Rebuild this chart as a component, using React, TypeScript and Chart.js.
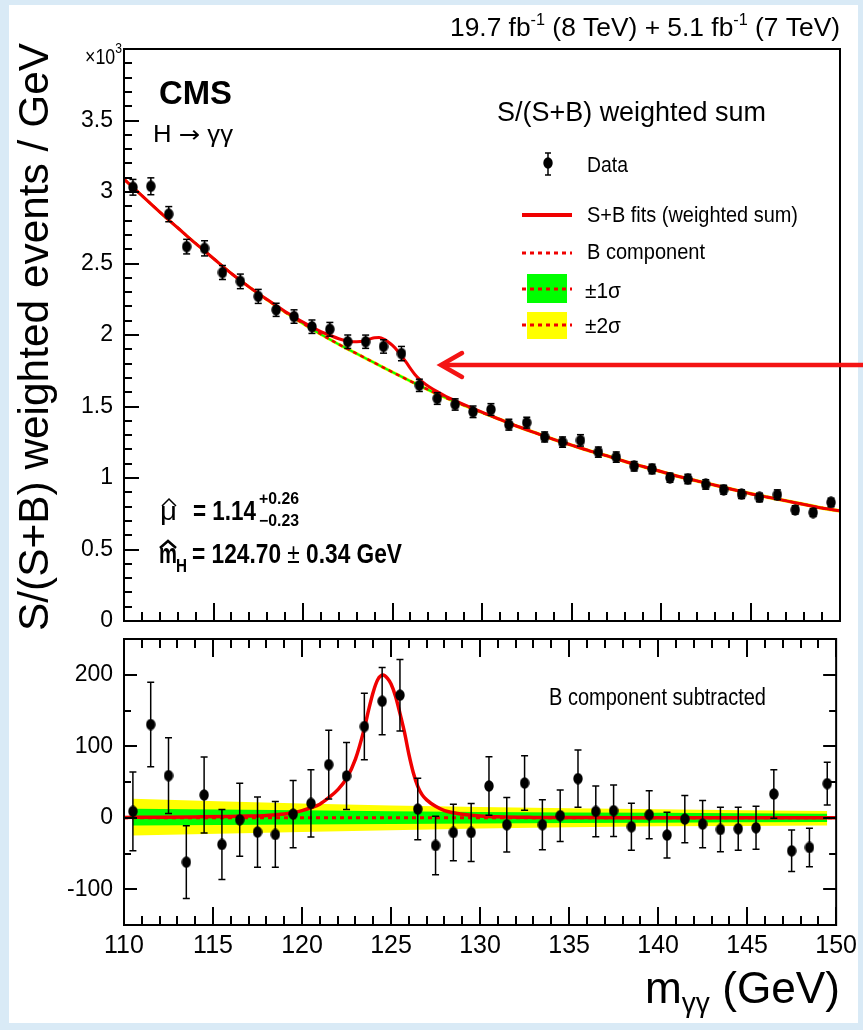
import { useEffect, useRef } from 'react';
import { Chart, registerables } from 'chart.js';

Chart.register(...registerables);

const W = 863;
const H = 1030;
const FONT = '"Liberation Sans", Arial, Helvetica, sans-serif';
const RED = '#f00000';
const GREEN = '#00ff00';
const YELLOW = '#ffff00';
const BLUE_BG = '#d9eaf6';

// ---------------- data ----------------
const BIN_CENTERS = [
  110.5, 111.5, 112.5, 113.5, 114.5, 115.5, 116.5, 117.5, 118.5, 119.5,
  120.5, 121.5, 122.5, 123.5, 124.5, 125.5, 126.5, 127.5, 128.5, 129.5,
  130.5, 131.5, 132.5, 133.5, 134.5, 135.5, 136.5, 137.5, 138.5, 139.5,
  140.5, 141.5, 142.5, 143.5, 144.5, 145.5, 146.5, 147.5, 148.5, 149.5,
];
// S/(S+B) weighted events / GeV  (x10^3)
const TOP_DATA = [
  3.033, 3.04, 2.845, 2.618, 2.606, 2.437, 2.375, 2.27, 2.176, 2.129,
  2.058, 2.04, 1.953, 1.953, 1.92, 1.87, 1.648, 1.556, 1.514, 1.463,
  1.479, 1.373, 1.387, 1.287, 1.251, 1.263, 1.181, 1.146, 1.082, 1.063,
  1.002, 0.993, 0.955, 0.918, 0.887, 0.864, 0.883, 0.777, 0.758, 0.829,
];
// B component subtracted
const SUB_DATA = [
  8.9, 130.4, 58.9, -62.1, 31.8, -37.4, -2.8, -20.1, -23.4, 5.1,
  20.1, 74.3, 58.4, 127.6, 163, 171.5, 12.1, -38.8, -20.6, -20.6,
  44.4, -9.8, 48.6, -9.8, 2.8, 54.7, 8.9, 9.8, -12.6, 4.2,
  -24.3, -1.9, -8.9, -16.4, -15.4, -14, 33.2, -46.3, -41.6, 47.7,
];
// uncertainties (events / GeV)
const DATA_ERR = [
  55, 59, 53, 51, 53, 49, 51, 49, 46, 47,
  47, 48, 47, 46.5, 47, 50, 43, 41, 39.5, 40.5,
  41, 38, 38, 35, 36, 40, 35.5, 36, 33, 33.7,
  32, 33, 33, 31, 30, 30, 34, 29, 27, 30,
];

// B component (x10^3)
const BKG_X = [
  110, 111, 112, 113, 114, 115, 116, 117, 118, 119, 120, 121, 122, 123, 124, 125,
  126, 127, 128, 129, 130, 131, 132, 133, 134, 135, 136, 137, 138, 139, 140, 141,
  142, 143, 144, 145, 146, 147, 148, 149, 150,
];
const BKG_Y = [
  3.09, 2.975, 2.86, 2.75, 2.64, 2.535, 2.43, 2.335, 2.245, 2.16, 2.08, 2.005, 1.935, 1.87, 1.805, 1.74,
  1.677, 1.617, 1.56, 1.508, 1.458, 1.41, 1.36, 1.315, 1.27, 1.23, 1.19, 1.155, 1.115, 1.08, 1.045, 1.01,
  0.98, 0.95, 0.92, 0.89, 0.865, 0.84, 0.815, 0.79, 0.77,
];
// S+B fit (x10^3)
const SB_X = [
  110, 111, 112, 113, 114, 115, 116, 117, 118, 119, 119.5, 120, 120.5, 121, 121.5, 122,
  122.5, 123, 123.5, 123.75, 124, 124.25, 124.55, 124.8, 125, 125.25, 125.5, 125.75, 126,
  126.25, 126.5, 126.75, 127, 127.5, 128, 128.5, 129, 130, 131, 132, 133, 134, 135, 136,
  137, 138, 139, 140, 141, 142, 143, 144, 145, 146, 147, 148, 149, 150,
];
const SB_Y = [
  3.09, 2.975, 2.86, 2.75, 2.64, 2.535, 2.43, 2.335, 2.248, 2.165, 2.127, 2.09, 2.056, 2.024, 1.998, 1.974,
  1.957, 1.952, 1.962, 1.973, 1.981, 1.982, 1.969, 1.948, 1.927, 1.894, 1.854, 1.812, 1.766,
  1.724, 1.691, 1.664, 1.642, 1.604, 1.57, 1.541, 1.513, 1.46, 1.41, 1.36, 1.315, 1.27, 1.23, 1.19,
  1.155, 1.115, 1.08, 1.045, 1.01, 0.98, 0.95, 0.92, 0.89, 0.865, 0.84, 0.815, 0.79, 0.77,
];
// signal fit, B subtracted (events / GeV)
const SIG_X = [
  110, 112, 114, 116, 117, 118, 119, 119.5, 120, 120.5, 121, 121.5, 122, 122.5, 123, 123.5,
  123.75, 124, 124.25, 124.55, 124.8, 125, 125.25, 125.5, 125.75, 126, 126.25, 126.5, 126.75,
  127, 127.5, 128, 128.5, 129, 130, 131, 133, 136, 140, 150,
];
const SIG_Y = [
  0.5, 0.8, 1.2, 1.8, 2.4, 3.3, 5.3, 7, 10, 14, 19, 28, 39, 55, 82, 125,
  152, 176, 193, 199.5, 195, 187, 170, 146, 120, 89, 63, 44, 32,
  25, 16, 10, 7, 5, 2.5, 1.3, 0.5, 0.2, 0.1, 0,
];
const ZERO_X = [110, 150];
const ZERO_Y = [0, 0];

// uncertainty bands of the B component
const BAND_X = [110.5, 120, 130, 140, 149.5];
const BAND1_UP = [12.6, 10.5, 8, 7, 5.6];
const BAND1_DN = [-10.7, -9.5, -8, -7, -6];
const BAND2_UP = [26.6, 20, 15, 12, 9.3];
const BAND2_DN = [-24.8, -20, -15, -12, -10.7];
const TOP_BAND1 = 0.008;
const TOP_BAND2 = 0.013;

// axes
const X_TICKS = [110, 115, 120, 125, 130, 135, 140, 145, 150];
const TOP_Y_TICKS = [0, 0.5, 1, 1.5, 2, 2.5, 3, 3.5];
const SUB_Y_TICKS = [-100, 0, 100, 200];

// ---------------- helpers ----------------
const pts = (xs: number[], ys: number[]) => xs.map((x, i) => ({ x, y: ys[i] }));
const fontStr = (size: number, bold?: boolean, family?: string) =>
  `${bold ? 'bold ' : ''}${size}px ${family || FONT}`;

type Seg = { t: string; size: number; bold?: boolean; dy?: number; family?: string };

function drawRich(
  ctx: CanvasRenderingContext2D,
  segs: Seg[],
  x: number,
  y: number,
  align: 'left' | 'right' | 'center',
  width?: number,
  color = '#000'
) {
  let natural = 0;
  const widths = segs.map((s) => {
    ctx.font = fontStr(s.size, s.bold, s.family);
    const w = ctx.measureText(s.t).width;
    natural += w;
    return w;
  });
  const sx = width ? width / natural : 1;
  const total = natural * sx;
  const x0 = align === 'right' ? x - total : align === 'center' ? x - total / 2 : x;
  ctx.save();
  ctx.translate(x0, y);
  ctx.scale(sx, 1);
  ctx.textAlign = 'left';
  ctx.textBaseline = 'alphabetic';
  ctx.fillStyle = color;
  let cx = 0;
  segs.forEach((s, i) => {
    ctx.font = fontStr(s.size, s.bold, s.family);
    ctx.fillText(s.t, cx, s.dy || 0);
    cx += widths[i];
  });
  ctx.restore();
}

function line(ctx: CanvasRenderingContext2D, x1: number, y1: number, x2: number, y2: number) {
  ctx.beginPath();
  ctx.moveTo(x1, y1);
  ctx.lineTo(x2, y2);
  ctx.stroke();
}

function yTicks(chart: any, step: number, major: number, side: 'left' | 'right', majLen: number, minLen: number) {
  const { ctx, chartArea: a } = chart;
  const s = chart.scales.y;
  const n = Math.round((s.max - s.min) / step);
  for (let i = 0; i <= n; i++) {
    const v = s.min + i * step;
    const isMaj = Math.abs(v / major - Math.round(v / major)) < 1e-6;
    const p = Math.round(s.getPixelForValue(v));
    const len = isMaj ? majLen : minLen;
    if (side === 'left') line(ctx, a.left, p, a.left + len, p);
    else line(ctx, a.right, p, a.right - len, p);
  }
}

function xTicks(chart: any, step: number, major: number, side: 'top' | 'bottom', majLen: number, minLen: number) {
  const { ctx, chartArea: a } = chart;
  const s = chart.scales.x;
  const n = Math.round((s.max - s.min) / step);
  for (let i = 0; i <= n; i++) {
    const v = s.min + i * step;
    const isMaj = Math.abs(v / major - Math.round(v / major)) < 1e-6;
    const p = Math.round(s.getPixelForValue(v));
    const len = isMaj ? majLen : minLen;
    if (side === 'bottom') line(ctx, p, a.bottom, p, a.bottom - len);
    else line(ctx, p, a.top, p, a.top + len);
  }
}

function makeMarker(): HTMLCanvasElement {
  const c = document.createElement('canvas');
  c.width = 10;
  c.height = 12;
  const g = c.getContext('2d')!;
  g.fillStyle = '#000';
  g.beginPath();
  g.ellipse(5, 6, 4.7, 5.8, 0, 0, Math.PI * 2);
  g.fill();
  return c;
}

function errorBarPlugin(xs: number[], ys: number[], errs: number[], factor: number) {
  return {
    id: 'errorBars',
    beforeDatasetDraw(chart: any, args: any) {
      if (args.index !== 0) return;
      const { ctx, chartArea: a } = chart;
      const sx = chart.scales.x;
      const sy = chart.scales.y;
      ctx.save();
      ctx.beginPath();
      ctx.rect(a.left, a.top, a.right - a.left, a.bottom - a.top);
      ctx.clip();
      ctx.strokeStyle = '#000';
      ctx.lineWidth = 1.5;
      xs.forEach((x, i) => {
        const px = sx.getPixelForValue(x);
        const e = errs[i] * factor;
        const y1 = sy.getPixelForValue(ys[i] + e);
        const y2 = sy.getPixelForValue(ys[i] - e);
        line(ctx, px, y1, px, y2);
        line(ctx, px - 3.5, y1, px + 3.5, y1);
        line(ctx, px - 3.5, y2, px + 3.5, y2);
      });
      ctx.restore();
    },
  };
}

function dataset(label: string, xs: number[], ys: number[], extra: any) {
  return {
    label,
    data: pts(xs, ys),
    pointRadius: 0,
    borderWidth: 0,
    fill: false,
    cubicInterpolationMode: 'monotone',
    ...extra,
  };
}

const tickFont = (size: number) => ({ family: FONT, size });

// ---------------- top panel ----------------
function topConfig(marker: HTMLCanvasElement): any {
  const deco = {
    id: 'topDeco',
    afterDraw(chart: any) {
      const { ctx, chartArea: a } = chart;
      ctx.save();
      ctx.strokeStyle = '#000';
      ctx.lineWidth = 2;
      yTicks(chart, 0.1, 0.5, 'left', 15, 8);
      xTicks(chart, 1, 5, 'bottom', 18, 9);
      ctx.strokeRect(a.left, a.top, a.right - a.left, a.bottom - a.top);

      // y-axis title
      ctx.save();
      ctx.translate(48, 337);
      ctx.rotate(-Math.PI / 2);
      drawRich(ctx, [{ t: 'S/(S+B) weighted events / GeV', size: 42 }], 0, 0, 'center', 588);
      ctx.restore();

      // top-right luminosity label
      drawRich(
        ctx,
        [
          { t: '19.7 fb', size: 26 },
          { t: '-1', size: 16, dy: -11 },
          { t: ' (8 TeV) + 5.1 fb', size: 26 },
          { t: '-1', size: 16, dy: -11 },
          { t: ' (7 TeV)', size: 26 },
        ],
        840, 36, 'right', 390
      );
      drawRich(ctx, [{ t: '×10', size: 22 }, { t: '3', size: 15, dy: -11 }], 85, 64, 'left', 37);
      drawRich(ctx, [{ t: 'CMS', size: 33, bold: true }], 159, 104, 'left', 73);
      drawRich(
        ctx,
        [
          { t: 'H ', size: 23 },
          { t: '→', size: 23, family: '"DejaVu Sans", sans-serif' },
          { t: ' γγ', size: 23 },
        ],
        153, 142, 'left', 80
      );

      // legend
      drawRich(ctx, [{ t: 'S/(S+B) weighted sum', size: 27 }], 497, 121, 'left', 269);
      ctx.drawImage(marker, 548 - 5, 163 - 6);
      ctx.lineWidth = 1.5;
      line(ctx, 548, 153, 548, 175);
      line(ctx, 545, 153, 551, 153);
      line(ctx, 545, 175, 551, 175);
      drawRich(ctx, [{ t: 'Data', size: 22 }], 587, 172, 'left', 41);

      ctx.strokeStyle = RED;
      ctx.lineWidth = 4;
      line(ctx, 522, 215, 572, 215);
      drawRich(ctx, [{ t: 'S+B fits (weighted sum)', size: 22 }], 587, 222, 'left', 211);

      ctx.lineWidth = 3;
      ctx.setLineDash([4, 4]);
      line(ctx, 522, 253, 572, 253);
      ctx.setLineDash([]);
      drawRich(ctx, [{ t: 'B component', size: 22 }], 587, 259, 'left', 118);

      ctx.fillStyle = GREEN;
      ctx.fillRect(527, 274, 40, 29);
      ctx.fillStyle = YELLOW;
      ctx.fillRect(527, 312, 40, 27);
      ctx.setLineDash([4, 4]);
      line(ctx, 522, 289, 572, 289);
      line(ctx, 522, 325, 572, 325);
      ctx.setLineDash([]);
      drawRich(ctx, [{ t: '±1σ', size: 22 }], 585, 298, 'left', 36);
      drawRich(ctx, [{ t: '±2σ', size: 22 }], 585, 333, 'left', 36);

      // fit results
      drawRich(ctx, [{ t: 'μ', size: 26 }], 160, 520, 'left', 17);
      ctx.strokeStyle = '#000';
      ctx.lineWidth = 1.5;
      ctx.beginPath();
      ctx.moveTo(162, 506);
      ctx.lineTo(169, 499);
      ctx.lineTo(176, 506);
      ctx.stroke();
      drawRich(ctx, [{ t: '= 1.14', size: 28, bold: true }], 193, 520, 'left', 63);
      drawRich(ctx, [{ t: '+0.26', size: 16, bold: true }], 259, 504, 'left', 40);
      drawRich(ctx, [{ t: '−0.23', size: 16, bold: true }], 259, 526, 'left', 40);

      drawRich(ctx, [{ t: 'm', size: 28, bold: true }], 159, 563, 'left', 18);
      ctx.lineWidth = 2.5;
      ctx.beginPath();
      ctx.moveTo(160, 548);
      ctx.lineTo(168, 541);
      ctx.lineTo(176, 548);
      ctx.stroke();
      drawRich(ctx, [{ t: 'H', size: 18, bold: true }], 176, 572, 'left', 11);
      drawRich(
        ctx,
        [
          { t: '= 124.70 ', size: 28, bold: true },
          { t: '±', size: 28 },
          { t: ' 0.34 GeV', size: 28, bold: true },
        ],
        192, 563, 'left', 210
      );

      // arrow
      ctx.strokeStyle = '#f41414';
      ctx.lineWidth = 4.5;
      ctx.lineCap = 'round';
      line(ctx, 442, 365, 870, 365);
      ctx.beginPath();
      ctx.moveTo(462, 353);
      ctx.lineTo(441, 365);
      ctx.lineTo(462, 377);
      ctx.stroke();
      ctx.restore();
    },
  };

  return {
    type: 'line',
    data: {
      datasets: [
        {
          label: 'Data',
          data: pts(BIN_CENTERS, TOP_DATA),
          showLine: false,
          pointStyle: marker,
          pointRadius: 5,
          order: 1,
        },
        dataset('S+B fit', SB_X, SB_Y, { borderColor: RED, borderWidth: 3, order: 2 }),
        dataset('B component', BKG_X, BKG_Y, { borderColor: RED, borderWidth: 2.5, borderDash: [4, 4], order: 3 }),
        dataset('+1 sigma', BKG_X, BKG_Y.map((v) => v + TOP_BAND1), { fill: '+1', backgroundColor: GREEN, order: 4 }),
        dataset('-1 sigma', BKG_X, BKG_Y.map((v) => v - TOP_BAND1), { order: 4 }),
        dataset('+2 sigma', BKG_X, BKG_Y.map((v) => v + TOP_BAND2), { fill: '+1', backgroundColor: YELLOW, order: 5 }),
        dataset('-2 sigma', BKG_X, BKG_Y.map((v) => v - TOP_BAND2), { order: 5 }),
      ],
    },
    options: {
      animation: false,
      responsive: false,
      devicePixelRatio: 1,
      events: [],
      layout: { padding: { left: 0, top: 49, right: 23, bottom: 409 } },
      plugins: { legend: { display: false }, tooltip: { enabled: false } },
      scales: {
        x: { type: 'linear', min: 110, max: 150, display: false },
        y: {
          type: 'linear',
          min: 0,
          max: 4,
          position: 'left',
          grid: { display: false, drawTicks: false },
          border: { display: false },
          afterBuildTicks: (s: any) => {
            s.ticks = TOP_Y_TICKS.map((v) => ({ value: v }));
          },
          afterFit: (s: any) => {
            s.width = 124;
          },
          ticks: {
            font: tickFont(23),
            color: '#000',
            padding: 11,
            autoSkip: false,
            callback: (v: any) => String(v),
          },
        },
      },
    },
    plugins: [errorBarPlugin(BIN_CENTERS, TOP_DATA, DATA_ERR, 0.001), deco],
  };
}

// ---------------- bottom panel ----------------
function bottomConfig(marker: HTMLCanvasElement): any {
  const deco = {
    id: 'bottomDeco',
    afterDraw(chart: any) {
      const { ctx, chartArea: a } = chart;
      ctx.save();
      ctx.strokeStyle = '#000';
      ctx.lineWidth = 2;
      yTicks(chart, 50, 100, 'left', 13, 7);
      yTicks(chart, 50, 100, 'right', 13, 7);
      xTicks(chart, 1, 5, 'bottom', 18, 9);
      xTicks(chart, 1, 5, 'top', 18, 9);
      ctx.strokeRect(a.left, a.top, a.right - a.left, a.bottom - a.top);
      drawRich(ctx, [{ t: 'B component subtracted', size: 23 }], 549, 705, 'left', 217);
      drawRich(
        ctx,
        [
          { t: 'm', size: 44 },
          { t: 'γγ', size: 28, dy: 9 },
          { t: ' (GeV)', size: 44 },
        ],
        840, 1003, 'right', 195
      );
      ctx.restore();
    },
  };

  return {
    type: 'line',
    data: {
      datasets: [
        {
          label: 'Data',
          data: pts(BIN_CENTERS, SUB_DATA),
          showLine: false,
          pointStyle: marker,
          pointRadius: 5,
          order: 1,
        },
        dataset('S fit', SIG_X, SIG_Y, { borderColor: RED, borderWidth: 3.5, order: 2 }),
        dataset('B component', ZERO_X, ZERO_Y, { borderColor: RED, borderWidth: 3, borderDash: [4, 4], order: 3 }),
        dataset('+1 sigma', BAND_X, BAND1_UP, { fill: '+1', backgroundColor: GREEN, order: 4 }),
        dataset('-1 sigma', BAND_X, BAND1_DN, { order: 4 }),
        dataset('+2 sigma', BAND_X, BAND2_UP, { fill: '+1', backgroundColor: YELLOW, order: 5 }),
        dataset('-2 sigma', BAND_X, BAND2_DN, { order: 5 }),
      ],
    },
    options: {
      animation: false,
      responsive: false,
      devicePixelRatio: 1,
      events: [],
      layout: { padding: { left: 0, top: 639, right: 23, bottom: 25 } },
      plugins: { legend: { display: false }, tooltip: { enabled: false } },
      scales: {
        x: {
          type: 'linear',
          min: 110,
          max: 150,
          position: 'bottom',
          grid: { display: false, drawTicks: false },
          border: { display: false },
          afterBuildTicks: (s: any) => {
            s.ticks = X_TICKS.map((v) => ({ value: v }));
          },
          afterFit: (s: any) => {
            s.height = 80;
          },
          ticks: {
            font: tickFont(25),
            color: '#000',
            padding: 6,
            autoSkip: false,
            maxRotation: 0,
            callback: (v: any) => String(v),
          },
        },
        y: {
          type: 'linear',
          min: -150,
          max: 250,
          position: 'left',
          grid: { display: false, drawTicks: false },
          border: { display: false },
          afterBuildTicks: (s: any) => {
            s.ticks = SUB_Y_TICKS.map((v) => ({ value: v }));
          },
          afterFit: (s: any) => {
            s.width = 124;
          },
          ticks: {
            font: tickFont(23),
            color: '#000',
            padding: 11,
            autoSkip: false,
            callback: (v: any) => String(v),
          },
        },
      },
    },
    plugins: [errorBarPlugin(BIN_CENTERS, SUB_DATA, DATA_ERR, 1), deco],
  };
}

export default function App() {
  const topRef = useRef<HTMLCanvasElement>(null);
  const botRef = useRef<HTMLCanvasElement>(null);

  useEffect(() => {
    const marker = makeMarker();
    const top = new Chart(topRef.current!, topConfig(marker));
    const bottom = new Chart(botRef.current!, bottomConfig(marker));
    return () => {
      top.destroy();
      bottom.destroy();
    };
  }, []);

  const canvasStyle: any = { position: 'absolute', left: 0, top: 0, width: W, height: H };
  return (
    <div
      style={{
        position: 'fixed',
        left: 0,
        top: 0,
        width: W,
        height: H,
        background: BLUE_BG,
        overflow: 'hidden',
      }}
    >
      <div style={{ position: 'absolute', left: 9, top: 5, width: 849, height: 1018, background: '#fff' }} />
      <canvas ref={topRef} width={W} height={H} style={canvasStyle} />
      <canvas ref={botRef} width={W} height={H} style={canvasStyle} />
    </div>
  );
}
